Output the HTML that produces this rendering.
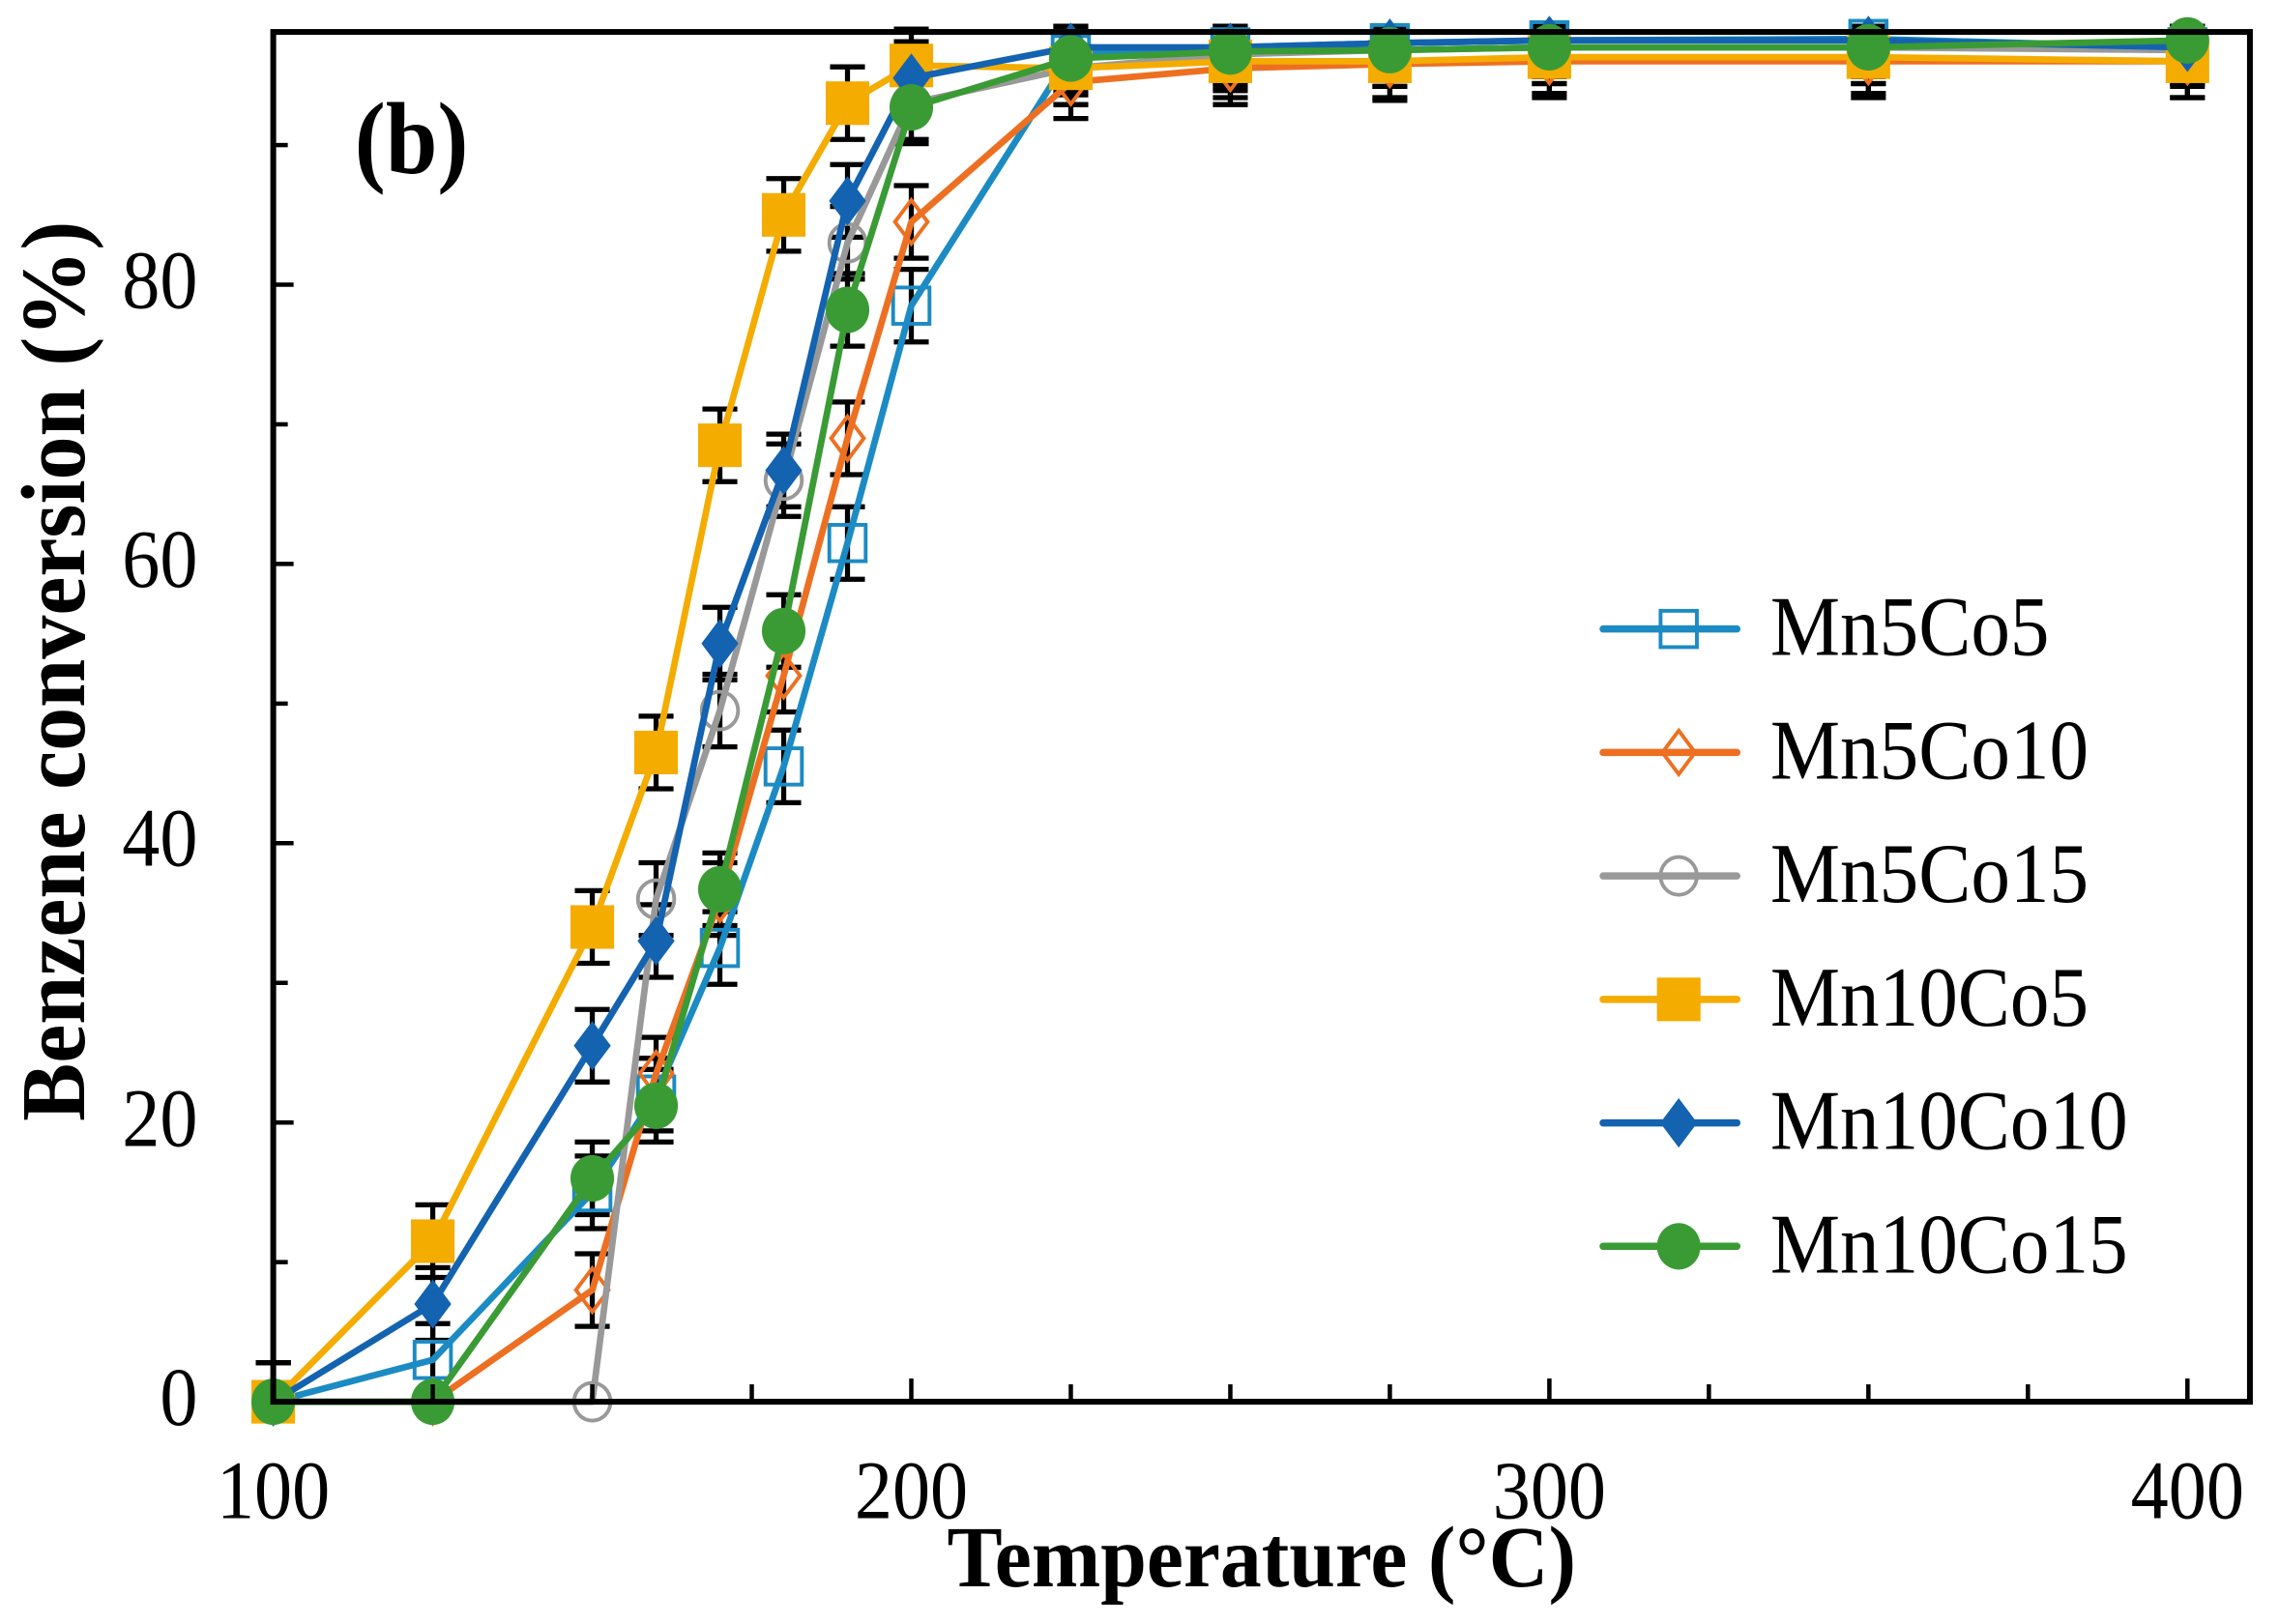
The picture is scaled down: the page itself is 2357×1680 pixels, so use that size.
<!DOCTYPE html>
<html><head><meta charset="utf-8"><style>
html,body{margin:0;padding:0;background:#fff;}
svg{display:block;}
text{font-family:"Liberation Serif",serif;}
</style></head><body>
<svg id="s" width="2357" height="1680" viewBox="0 0 1568 1118" preserveAspectRatio="none" xmlns="http://www.w3.org/2000/svg">
<defs><clipPath id="cp"><rect x="0" y="0" width="1568" height="965"/></clipPath></defs>
<rect width="1568" height="1118" fill="#fff"/>
<g id="eb" clip-path="url(#cp)"></g>
<g id="ser"></g>
<rect x="188" y="22" width="1360" height="943" fill="none" stroke="#000" stroke-width="4"/>
<g id="ticks" stroke="#000" stroke-width="3"></g>
<g font-size="52" fill="#000">
<text transform="translate(136,981) scale(1,1.1)" text-anchor="end">0</text>
<text transform="translate(136,789) scale(1,1.1)" text-anchor="end">20</text>
<text transform="translate(136,596) scale(1,1.1)" text-anchor="end">40</text>
<text transform="translate(136,404) scale(1,1.1)" text-anchor="end">60</text>
<text transform="translate(136,212) scale(1,1.1)" text-anchor="end">80</text>
<text transform="translate(188,1045) scale(1,1.1)" text-anchor="middle">100</text>
<text transform="translate(627,1045) scale(1,1.1)" text-anchor="middle">200</text>
<text transform="translate(1066,1045) scale(1,1.1)" text-anchor="middle">300</text>
<text transform="translate(1505,1045) scale(1,1.1)" text-anchor="middle">400</text>
</g>
<text transform="translate(868,1092) scale(1,1.05)" font-size="57" font-weight="bold" text-anchor="middle">Temperature (°C)</text>
<text transform="translate(58,462) rotate(-90) scale(1,1.05)" font-size="60" font-weight="bold" text-anchor="middle">Benzene conversion (%)</text>
<text transform="translate(244,119) scale(1,1.1)" font-size="64" font-weight="bold">(b)</text>
<g id="leg" font-size="54" fill="#000">
<text transform="translate(1218,451) scale(1,1.08)">Mn5Co5</text>
<text transform="translate(1218,536) scale(1,1.08)">Mn5Co10</text>
<text transform="translate(1218,621) scale(1,1.08)">Mn5Co15</text>
<text transform="translate(1218,706) scale(1,1.08)">Mn10Co5</text>
<text transform="translate(1218,791) scale(1,1.08)">Mn10Co10</text>
<text transform="translate(1218,876) scale(1,1.08)">Mn10Co15</text>
</g>
</svg>
<script>
var NS="http://www.w3.org/2000/svg";
function X(t){return 188+(t-100)*4.39;}
function Y(v){return 965-v*9.6125;}
function el(p,n,a){var e=document.createElementNS(NS,n);for(var k in a)e.setAttribute(k,a[k]);p.appendChild(e);return e;}
var T=[100,125,150,160,170,180,190,200,225,250,275,300,350,400];
var S=[
{c:"#1c8bc3",m:"sq",f:false,d:[0,3,15,22,32.5,45.5,61.5,78.5,96.5,97,97.3,97.5,97.6,97]},
{c:"#ed7022",m:"di",f:false,d:[0,0,8,23.5,36,52,69,84.5,94.5,95.5,95.8,96,96,96]},
{c:"#999999",m:"ci",f:false,d:[0,0,0,36,49.5,66,83,93,95.5,96.5,96.8,97,97,96.8]},
{c:"#f4ac00",m:"sq",f:true,d:[0,11.5,34,46.5,68.5,85,93,95.7,95.5,96,96,96.3,96.3,96]},
{c:"#1363b0",m:"di",f:true,d:[0,7,25.5,33,54.3,66.7,86,94.8,97,97,97.3,97.5,97.5,97]},
{c:"#3a9b35",m:"ci",f:true,d:[0,0,16,21.2,36.7,55.2,78.2,92.7,96.2,96.7,96.8,97,97,97.5]}
];
var tk=document.getElementById("ticks");
for(var v=0;v<=90;v+=10){var L=v%20==0?14:10;el(tk,"line",{x1:188,x2:188+L,y1:Y(v),y2:Y(v)});}
for(var t=100;t<=400;t+=25){var L=t%100==0?16:12;el(tk,"line",{x1:X(t),x2:X(t),y1:965,y2:965-L});}
var eb=document.getElementById("eb"),sr=document.getElementById("ser");
S.forEach(function(s){s.d.forEach(function(v,i){if(v==0&&i>0)return;var e=2.6;if(v==0)e=2.8;
var x=X(T[i]),y1=Y(Math.min(v+e,98.5)),y2=Y(v-e);
var g=el(eb,"g",{stroke:"#000","stroke-width":3.5});
el(g,"line",{x1:x,x2:x,y1:y1,y2:y2});el(g,"line",{x1:x-12,x2:x+12,y1:y1,y2:y1});el(g,"line",{x1:x-12,x2:x+12,y1:y2,y2:y2});});});
function mk(p,s,x,y){var fill=s.f?s.c:"none",sw=s.f?0:2.6,r=s.f?15:12.5;
if(s.m=="sq")el(p,"rect",{x:x-r,y:y-r,width:2*r,height:2*r,fill:s.f?s.c:"#fff","fill-opacity":s.f?1:0,stroke:s.c,"stroke-width":sw});
else if(s.m=="di"){var q=s.f?17:15;el(p,"polygon",{points:(x)+","+(y-q)+" "+(x+q*0.75)+","+y+" "+x+","+(y+q)+" "+(x-q*0.75)+","+y,fill:fill,stroke:s.c,"stroke-width":sw});}
else el(p,"ellipse",{cx:x,cy:y,rx:s.f?15:12.5,ry:s.f?16:13,fill:fill,stroke:s.c,"stroke-width":sw});}
S.forEach(function(s){var pts=s.d.map(function(v,i){return X(T[i])+","+Y(v);}).join(" ");
el(sr,"polyline",{points:pts,fill:"none",stroke:s.c,"stroke-width":4.5,"stroke-linejoin":"round"});
s.d.forEach(function(v,i){mk(sr,s,X(T[i]),Y(v));});});
var lg=document.getElementById("leg");
S.forEach(function(s,i){var y=433+85*i;el(lg,"line",{x1:1103,x2:1195,y1:y,y2:y,stroke:s.c,"stroke-width":5,"stroke-linecap":"round"});mk(lg,s,1155,y);});
</script>
</body></html>
